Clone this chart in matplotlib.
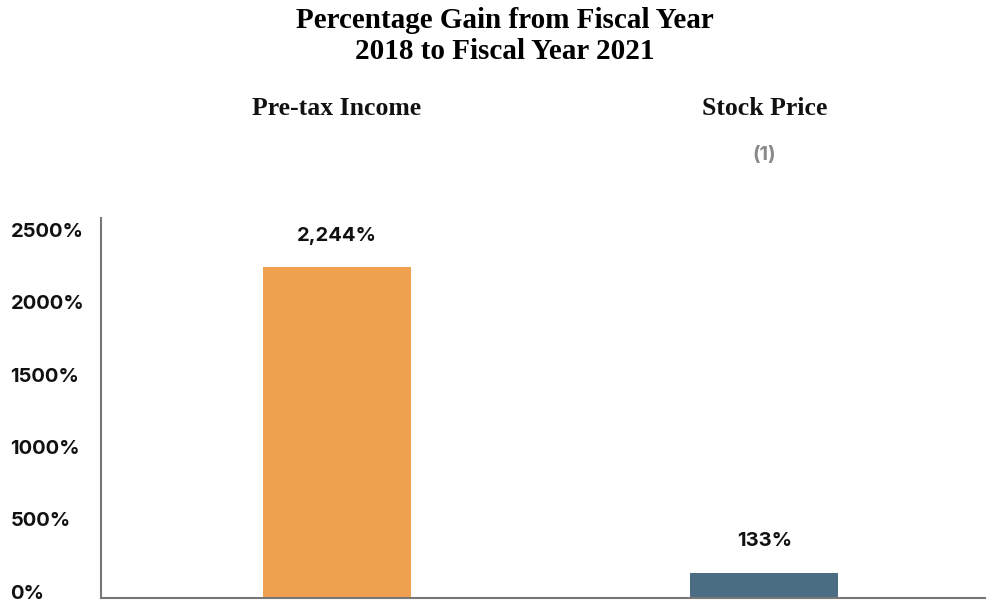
import numpy as np
import matplotlib.pyplot as plt

# chart data
categories = ["Pre-tax Income", "Stock Price"]
notes = ["", "(1)"]
gains = [2244, 133]
value_labels = ["2,244%", "133%"]
bar_colors = ["#EFA150", "#4B6D84"]
yticks = [0, 500, 1000, 1500, 2000, 2500]

fig = plt.figure(figsize=(9.88, 6.01), dpi=100)
ax = fig.add_axes([0.102, 0.005, 0.895, 0.632])

# axis starts a little below zero, bars sit on the baseline
ymin, ymax = -42, 2580
x = np.arange(len(categories))
ax.bar(x, np.array(gains) - ymin, bottom=ymin, width=0.346, color=bar_colors)
ax.set_ylim(ymin, ymax)
ax.set_xlim(-0.552, 1.516)

sans = "Inter"
for xi, g, lab in zip(x, gains, value_labels):
    ax.annotate(lab, (xi, g), xytext=(0, 16), textcoords="offset points",
                ha="center", va="bottom", fontsize=14.5, fontfamily=sans,
                fontweight="bold", color="#111111")

# category headings above the plot
for xi, cat, note in zip(x, categories, notes):
    ax.text(xi, 1.289, cat, transform=ax.get_xaxis_transform(), ha="center",
            va="center", fontsize=18.5, fontfamily="Liberation Serif",
            fontweight="bold", color="#111111")
    if note:
        ax.text(xi, 1.166, note, transform=ax.get_xaxis_transform(), ha="center",
                va="center", fontsize=14.5, fontfamily=sans,
                fontweight="bold", color="#8a8a8a")

ax.set_yticks(yticks)
ax.set_yticklabels([f"{t}%" for t in yticks], fontfamily=sans,
                   fontweight="bold", fontsize=14.5, color="#111111")
for lab in ax.get_yticklabels():
    lab.set_ha("left")
ax.tick_params(axis="y", length=0, pad=65)
ax.set_xticks([])

for s in ["top", "right"]:
    ax.spines[s].set_visible(False)
for s in ["left", "bottom"]:
    ax.spines[s].set_color("#777777")
    ax.spines[s].set_linewidth(1.5)

fig.text(0.511, 0.94, "Percentage Gain from Fiscal Year\n2018 to Fiscal Year 2021",
         ha="center", va="center", fontsize=21, fontfamily="Liberation Serif",
         fontweight="bold", linespacing=1.2)

fig.savefig("out.png", dpi=100)
